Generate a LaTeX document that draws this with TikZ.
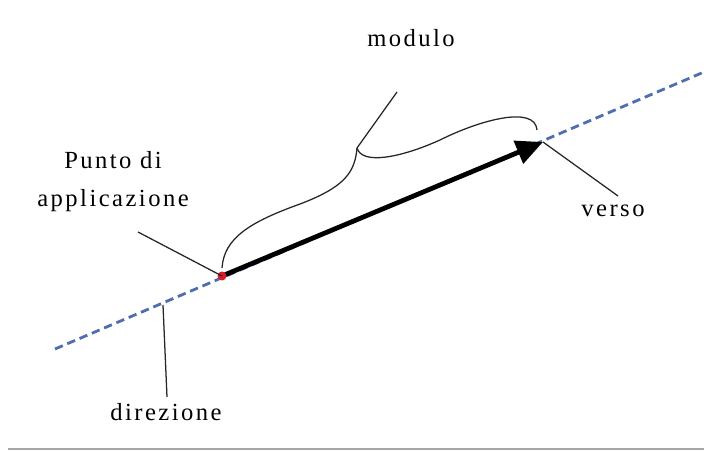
\documentclass[tikz,border=0pt]{standalone}
\usepackage{fontspec}
\setmainfont{Liberation Serif}[LetterSpace=10]
\usepackage{xcolor}
\usepackage{tikz}
\usetikzlibrary{positioning,arrows.meta,calc}
\definecolor{rettablu}{RGB}{80,110,175}
\definecolor{puntorosso}{RGB}{215,30,40}

\begin{document}
\begin{tikzpicture}[x=0.025cm,y=-0.025cm,
    lbl/.style={font=\fontsize{17.5}{27.7}\selectfont,inner sep=0pt,align=center},
    leader/.style={line width=0.9pt,black!85},
    retta/.style={rettablu,line width=2pt,dash pattern=on 6pt off 3.5pt},
    vec/.style={line width=3.4pt,-{Triangle[length=19pt,width=17pt]}}]
  \useasboundingbox (0,0) rectangle (704,452);
  % Points on the line
  \coordinate (r1) at (55,349);
  \coordinate (r2) at (704,72);
  \coordinate (P) at (222,276);
  \coordinate (V) at (543,142);
  % Line of action
  \draw[retta] (r1) -- (r2);
  % Vector
  \draw[vec] (P) -- (V);
  \fill[puntorosso] (P) circle (4.5);
  % Labels
  \node[lbl,anchor=base] (mod) at (411,47) {modulo};
  \node[lbl,anchor=base] (app) at (113,207) {Punto di\\applicazione};
  \node[lbl,anchor=base] (ver) at (613,217) {verso};
  \node[lbl,anchor=base] (dir) at (166,420) {direzione};
  % Leader lines
  \coordinate (app-l) at (138,232);
  \coordinate (ver-l) at (618,196);
  \coordinate (dir-t) at (163,305);
  \coordinate (dir-b) at (167,397);
  \coordinate (mod-l) at (397,92);
  \coordinate (fork) at (357,148);
  \draw[leader] (app-l) -- (P);
  \draw[leader] (V) -- (ver-l);
  \draw[leader] (dir-t) -- (dir-b);
  % Brace for the length
  \draw[leader] ($(P)+(0,-8)$) .. controls (224,238) and (250,222) .. (300,204)
                .. controls (345,187) and (355,172) .. (fork);
  \draw[leader] (fork) -- (mod-l);
  \draw[leader] (fork) .. controls (362,165) and (400,158) .. (440,140)
                .. controls (480,120) and (535,105) .. (537,130);
  % Bottom rule
  \draw[black!35,line width=1.5pt] (8,449) -- (704,449);
\end{tikzpicture}
\end{document}
